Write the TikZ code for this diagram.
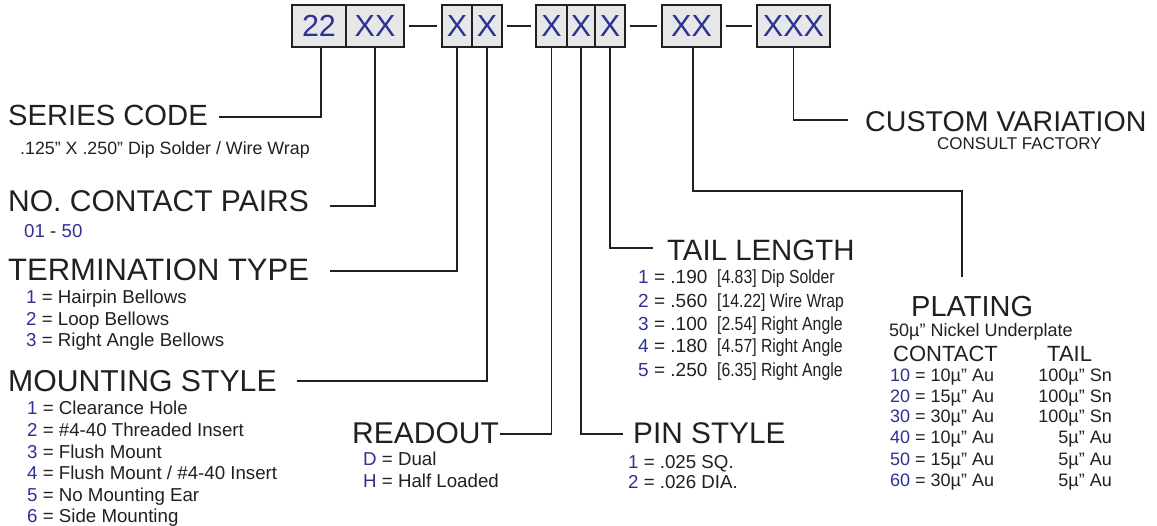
\documentclass[tikz,border=0pt]{standalone}
\usepackage{fontspec}
\setmainfont{Liberation Sans}
\newfontfamily\narrowfont[FakeStretch=0.83]{Liberation Sans}
\definecolor{ink}{HTML}{231F20}
\definecolor{blu}{HTML}{2E3192}
\definecolor{boxfill}{HTML}{E6E7E8}
\begin{document}
\begin{tikzpicture}[x=1pt,y=-1pt,
  codebox/.style={draw=ink, line width=1.8pt, fill=boxfill, text=blu,
    font=\fontsize{30.5}{30.5}\selectfont, inner sep=0pt, minimum height=42pt},
  link/.style={draw=ink, line width=1.5pt},
  title/.style={text=ink, font=\fontsize{30}{30}\selectfont, inner sep=0pt, anchor=base west},
  sub/.style={text=ink, font=\fontsize{18.7}{18.7}\selectfont, inner sep=0pt, anchor=base west},
  psub/.style={text=ink, font=\fontsize{18}{18}\selectfont, inner sep=0pt, anchor=base west},
  psubr/.style={psub, anchor=base east},
  tailsub/.style={text=ink, font=\fontsize{19}{19}\selectfont, inner sep=0pt, anchor=base west},
  narrowsub/.style={text=ink, font=\narrowfont\fontsize{19}{19}\selectfont, inner sep=0pt, anchor=base west},
  small/.style={text=ink, font=\fontsize{17}{17}\selectfont, inner sep=0pt, anchor=base west},
  head/.style={text=ink, font=\fontsize{22}{22}\selectfont, inner sep=0pt, anchor=base west}
]
\useasboundingbox (0,0) rectangle (1157,526);

% code boxes
\node[codebox, minimum width=54pt] (b1) at (319,26) {22};
\node[codebox, minimum width=58pt] (b2) at (375,26) {XX};
\node[codebox, minimum width=30pt] (b3) at (457,26) {X};
\node[codebox, minimum width=30pt] (b4) at (487,26) {X};
\node[codebox, minimum width=31pt] (b5) at (551.5,26) {X};
\node[codebox, minimum width=28pt] (b6) at (581,26) {X};
\node[codebox, minimum width=30pt] (b7) at (610,26) {X};
\node[codebox, minimum width=59pt] (b8) at (691.5,26) {XX};
\node[codebox, minimum width=73pt] (b9) at (793.5,26) {XXX};

% dashes between groups
\draw[link] ([xshift=4pt]b2.east) -- ([xshift=-4.5pt]b3.west);
\draw[link] ([xshift=4pt]b4.east) -- ([xshift=-4.5pt]b5.west);
\draw[link] ([xshift=4pt]b7.east) -- ([xshift=-4.5pt]b8.west);
\draw[link] ([xshift=4pt]b8.east) -- ([xshift=-4.5pt]b9.west);

% titles
\node[title, font=\fontsize{29.2}{29.2}\selectfont] (sc) at (8,126) {SERIES CODE};
\node[small, font=\fontsize{17.8}{17.8}\selectfont] (scd) at (20,155) {.125” X .250” Dip Solder / Wire Wrap};
\node[title, font=\fontsize{30}{30}\selectfont] (ncp) at (8,212) {NO. CONTACT PAIRS};
\node[sub] (ncr) at (24,238) {\textcolor{blu}{01} - \textcolor{blu}{50}};
\node[title, font=\fontsize{31}{31}\selectfont] (tt) at (8,281) {TERMINATION TYPE};
\node[sub] (tt1) at (26,304) {\textcolor{blu}{1} = Hairpin Bellows};
\node[sub] (tt2) at (26,326) {\textcolor{blu}{2} = Loop Bellows};
\node[sub] (tt3) at (26,347) {\textcolor{blu}{3} = Right Angle Bellows};
\node[title, font=\fontsize{30.2}{30.2}\selectfont] (ms) at (8,392) {MOUNTING STYLE};
\node[sub] (ms1) at (27,415) {\textcolor{blu}{1} = Clearance Hole};
\node[sub] (ms2) at (27,437) {\textcolor{blu}{2} = \#4-40 Threaded Insert};
\node[sub] (ms3) at (27,458) {\textcolor{blu}{3} = Flush Mount};
\node[sub] (ms4) at (27,479) {\textcolor{blu}{4} = Flush Mount / \#4-40 Insert};
\node[sub] (ms5) at (27,501) {\textcolor{blu}{5} = No Mounting Ear};
\node[sub] (ms6) at (27,522) {\textcolor{blu}{6} = Side Mounting};

\node[title] (ro) at (352,444) {READOUT};
\node[sub] (ro1) at (363,466) {\textcolor{blu}{D} = Dual};
\node[sub] (ro2) at (363,487) {\textcolor{blu}{H} = Half Loaded};

\node[title, font=\fontsize{29.8}{29.8}\selectfont] (ps) at (633,444) {PIN STYLE};
\node[sub] (ps1) at (628,468) {\textcolor{blu}{1} = .025 SQ.};
\node[sub] (ps2) at (628,489) {\textcolor{blu}{2} = .026 DIA.};

\node[title, font=\fontsize{29.4}{29.4}\selectfont] (tl) at (667,261) {TAIL LENGTH};
\node[tailsub] (tl1a) at (638,284) {\textcolor{blu}{1} = .190};
\node[narrowsub] (tl1b) at (717,284) {[4.83] Dip Solder};
\node[tailsub] (tl2a) at (638,308) {\textcolor{blu}{2} = .560};
\node[narrowsub] (tl2b) at (717,308) {[14.22] Wire Wrap};
\node[tailsub] (tl3a) at (638,331) {\textcolor{blu}{3} = .100};
\node[narrowsub] (tl3b) at (717,331) {[2.54] Right Angle};
\node[tailsub] (tl4a) at (638,353) {\textcolor{blu}{4} = .180};
\node[narrowsub] (tl4b) at (717,353) {[4.57] Right Angle};
\node[tailsub] (tl5a) at (638,377) {\textcolor{blu}{5} = .250};
\node[narrowsub] (tl5b) at (717,377) {[6.35] Right Angle};

\node[title, font=\fontsize{28.6}{28.6}\selectfont] (cv) at (865,132) {CUSTOM VARIATION};
\node[small] (cf) at (937,150) {CONSULT FACTORY};

\node[title, font=\fontsize{29}{29}\selectfont] (pl) at (911,317) {PLATING};
\node[psub] (pln) at (889,337) {50µ” Nickel Underplate};
\node[head] (ct) at (893,362) {CONTACT};
\node[head] (ta) at (1047,362) {TAIL};
\node[psub] (p1) at (890,382) {\textcolor{blu}{10} = 10µ” Au};
\node[psub] (p2) at (890,403) {\textcolor{blu}{20} = 15µ” Au};
\node[psub] (p3) at (890,423) {\textcolor{blu}{30} = 30µ” Au};
\node[psub] (p4) at (890,444) {\textcolor{blu}{40} = 10µ” Au};
\node[psub] (p5) at (890,466) {\textcolor{blu}{50} = 15µ” Au};
\node[psub] (p6) at (890,486) {\textcolor{blu}{60} = 30µ” Au};
\node[psubr] (q1) at (1112,382) {100µ” Sn};
\node[psubr] (q2) at (1112,403) {100µ” Sn};
\node[psubr] (q3) at (1112,423) {100µ” Sn};
\node[psubr] (q4) at (1112,444) {5µ” Au};
\node[psubr] (q5) at (1112,466) {5µ” Au};
\node[psubr] (q6) at (1112,486) {5µ” Au};

% connector ends
\coordinate (c1) at (219,117);
\coordinate (c2) at (330,206);
\coordinate (c3) at (330,271);
\coordinate (c4) at (297,381);
\coordinate (c5) at (500,434);
\coordinate (c6) at (623,434);
\coordinate (c7) at (653,248);
\coordinate (c8) at (962,191);
\coordinate (c8e) at (962,277);
\coordinate (c9) at (848,120);

\draw[link] ([xshift=2pt]b1.south) |- (c1);
\draw[link] (b2.south) |- (c2);
\draw[link] (b3.south) |- (c3);
\draw[link] (b4.south) |- (c4);
\draw[link] (b5.south) |- (c5);
\draw[link] (b6.south) |- (c6);
\draw[link] (b7.south) |- (c7);
\draw[link] ([xshift=1.5pt]b8.south) |- (c8) -- (c8e);
\draw[link] (b9.south) |- (c9);
\end{tikzpicture}
\end{document}
